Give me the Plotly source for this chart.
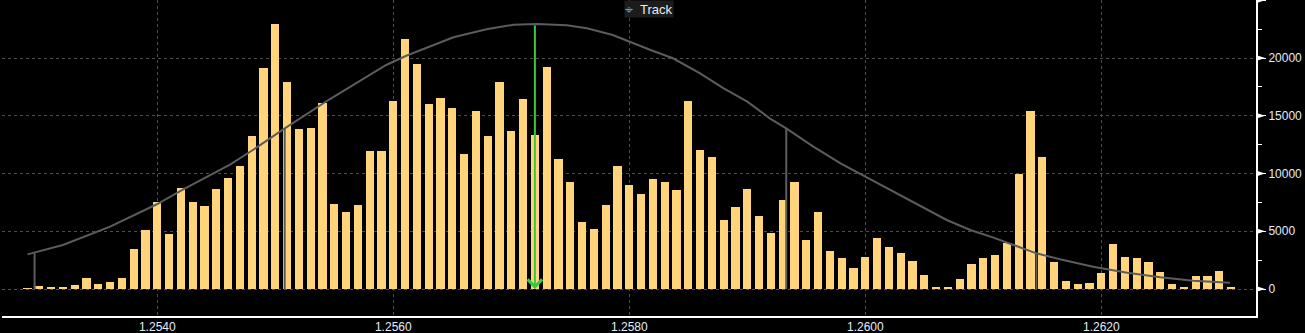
import plotly.graph_objects as go

# ---- data -------------------------------------------------------------
prices = [
    1.2529, 1.2530, 1.2531, 1.2532, 1.2533, 1.2534, 1.2535, 1.2536, 1.2537, 1.2538,
    1.2539, 1.2540, 1.2541, 1.2542, 1.2543, 1.2544, 1.2545, 1.2546, 1.2547, 1.2548,
    1.2549, 1.2550, 1.2551, 1.2552, 1.2553, 1.2554, 1.2555, 1.2556, 1.2557, 1.2558,
    1.2559, 1.2560, 1.2561, 1.2562, 1.2563, 1.2564, 1.2565, 1.2566, 1.2567, 1.2568,
    1.2569, 1.2570, 1.2571, 1.2572, 1.2573, 1.2574, 1.2575, 1.2576, 1.2577, 1.2578,
    1.2579, 1.2580, 1.2581, 1.2582, 1.2583, 1.2584, 1.2585, 1.2586, 1.2587, 1.2588,
    1.2589, 1.2590, 1.2591, 1.2592, 1.2593, 1.2594, 1.2595, 1.2596, 1.2597, 1.2598,
    1.2599, 1.2600, 1.2601, 1.2602, 1.2603, 1.2604, 1.2605, 1.2606, 1.2607, 1.2608,
    1.2609, 1.2610, 1.2611, 1.2612, 1.2613, 1.2614, 1.2615, 1.2616, 1.2617, 1.2618,
    1.2619, 1.2620, 1.2621, 1.2622, 1.2623, 1.2624, 1.2625, 1.2626, 1.2627, 1.2628,
    1.2629, 1.2630, 1.2631,
]

volumes = [
    60, 260, 170, 90, 350, 950, 430, 610, 950, 3460,
    5110, 7540, 4760, 8750, 7540, 7190, 8660, 9610, 10650, 13250,
    19140, 22950, 17930, 13860, 13940, 16110, 7360, 6670, 7280, 11950,
    11950, 16280, 21650, 19490, 16020, 16540, 15680, 11690, 15420, 13250,
    17930, 13680, 16460, 13340, 19230, 11260, 9270, 5800, 5200, 7280,
    10650, 9010, 8230, 9530, 9270, 8570, 16280, 12040, 11430, 5980,
    7100, 8660, 6320, 4850, 7710, 9270, 4240, 6670, 3290, 2690,
    1820, 2770, 4420, 3640, 3120, 2430, 1210, 170, 170, 870,
    2170, 2690, 2950, 3980, 9960, 15420, 11430, 2340, 690, 430,
    520, 1390, 3900, 2770, 2690, 2340, 1470, 430, 170, 1130,
    1130, 1560, 170,
]

# fitted distribution curve
curve_x = [
    1.25290, 1.25320, 1.25360, 1.25400, 1.25422, 1.25462, 1.25481, 1.25508,
    1.25546, 1.25566, 1.25594, 1.25611, 1.25631, 1.25651, 1.25679, 1.25702,
    1.25722, 1.25747, 1.25764, 1.25786, 1.25818, 1.25837, 1.25860, 1.25880,
    1.25900, 1.25919, 1.25933, 1.25956, 1.25979, 1.26000, 1.26024, 1.26046,
    1.26069, 1.26089, 1.26108, 1.26145, 1.26165, 1.26193, 1.26222, 1.26250,
    1.26278, 1.26309,
]
curve_y = [
    3000, 3810, 5400, 7360, 8630, 10800, 12040, 13910,
    16430, 17670, 19400, 20200, 20990, 21800, 22490, 22890,
    22950, 22840, 22580, 22000, 20700, 19980, 18680, 17380,
    16225, 14780, 13910, 12330, 10885, 9730, 8430, 7275,
    5976, 5110, 4475, 3090, 2570, 1934, 1415, 1010,
    722, 549,
]

# standard-deviation markers (price, height on curve)
sigma_prices = [1.25296, 1.25508, 1.25933, 1.26145]
sigma_heights = [3090, 13910, 13910, 3090]

# mean marker
mean_price = 1.2572
mean_height = 22950

y_tickvals = [0, 5000, 10000, 15000, 20000, 25000]
y_ticktext = ["0", "5000", "10000", "15000", "20000", ""]
x_tickvals = [1.2540, 1.2560, 1.2580, 1.2600, 1.2620]
x_ticktext = ["1.2540", "1.2560", "1.2580", "1.2600", "1.2620"]

# ---- styling ----------------------------------------------------------
BAR = "#FFD47B"
CURVE = "#5c5c5c"
GREEN = "#3cc83c"
GRID = "#4e4e4e"
LABEL = "#e4ecf8"
FONT = "Liberation Sans, Arial, sans-serif"

fig = go.Figure()

fig.add_trace(go.Bar(
    x=prices, y=volumes, width=0.00007,
    marker=dict(color=BAR, line=dict(width=0)),
    hoverinfo="skip",
))

fig.add_trace(go.Scatter(
    x=curve_x, y=curve_y, mode="lines",
    line=dict(color=CURVE, width=2), hoverinfo="skip",
))

sx, sy = [], []
for p, h in zip(sigma_prices, sigma_heights):
    sx += [p, p, None]
    sy += [0, h, None]
fig.add_trace(go.Scatter(
    x=sx, y=sy, mode="lines",
    line=dict(color=CURVE, width=2), hoverinfo="skip",
))

fig.add_annotation(
    x=mean_price, y=0, ax=mean_price, ay=mean_height,
    xref="x", yref="y", axref="x", ayref="y",
    showarrow=True, arrowhead=4, arrowsize=1.4, arrowwidth=2,
    arrowcolor=GREEN, text="",
)

fig.add_annotation(
    xref="paper", yref="paper", x=0.516, y=1.0,
    xanchor="center", yanchor="top", showarrow=False,
    text="<span style='color:#8c8c8c;font-family:DejaVu Sans;font-size:14px'>⌖</span>  Track",
    font=dict(family=FONT, size=13, color=LABEL),
    bgcolor="#1c1c1c", borderpad=0,
)

shapes = []
for v in y_tickvals:
    shapes.append(dict(
        type="path", xref="paper", yref="y",
        xsizemode="pixel", ysizemode="pixel",
        xanchor=1, yanchor=v,
        path="M0,-3 L9,0 L0,3 Z",
        fillcolor="white", line=dict(width=0), layer="above",
    ))

fig.update_layout(
    width=1305, height=333,
    margin=dict(l=2, r=49, t=0, b=17),
    paper_bgcolor="black", plot_bgcolor="black",
    showlegend=False, bargap=0,
    font=dict(family=FONT, size=12, color=LABEL),
    shapes=shapes,
    xaxis=dict(
        range=[1.252684, 1.263311], automargin=False,
        tickvals=x_tickvals, ticktext=x_ticktext,
        showgrid=True, gridcolor=GRID, griddash="dot", gridwidth=1,
        zeroline=False, showline=True, linecolor="white", linewidth=2,
        ticks="", ticklabelstandoff=-1,
        tickfont=dict(family=FONT, size=12, color=LABEL),
    ),
    yaxis=dict(
        side="right", automargin=False,
        range=[-2338, 25027],
        tickvals=y_tickvals, ticktext=y_ticktext,
        showgrid=True, gridcolor=GRID, griddash="dot", gridwidth=1,
        zeroline=False, showline=True, linecolor="white", linewidth=2,
        ticks="outside", ticklen=8, tickcolor="white", tickwidth=1,
        minor=dict(ticks="outside", ticklen=4, tickcolor="white",
                   dtick=2500, tick0=0, showgrid=False),
        tickfont=dict(family=FONT, size=12, color=LABEL),
    ),
)

fig.write_html("out.html")
